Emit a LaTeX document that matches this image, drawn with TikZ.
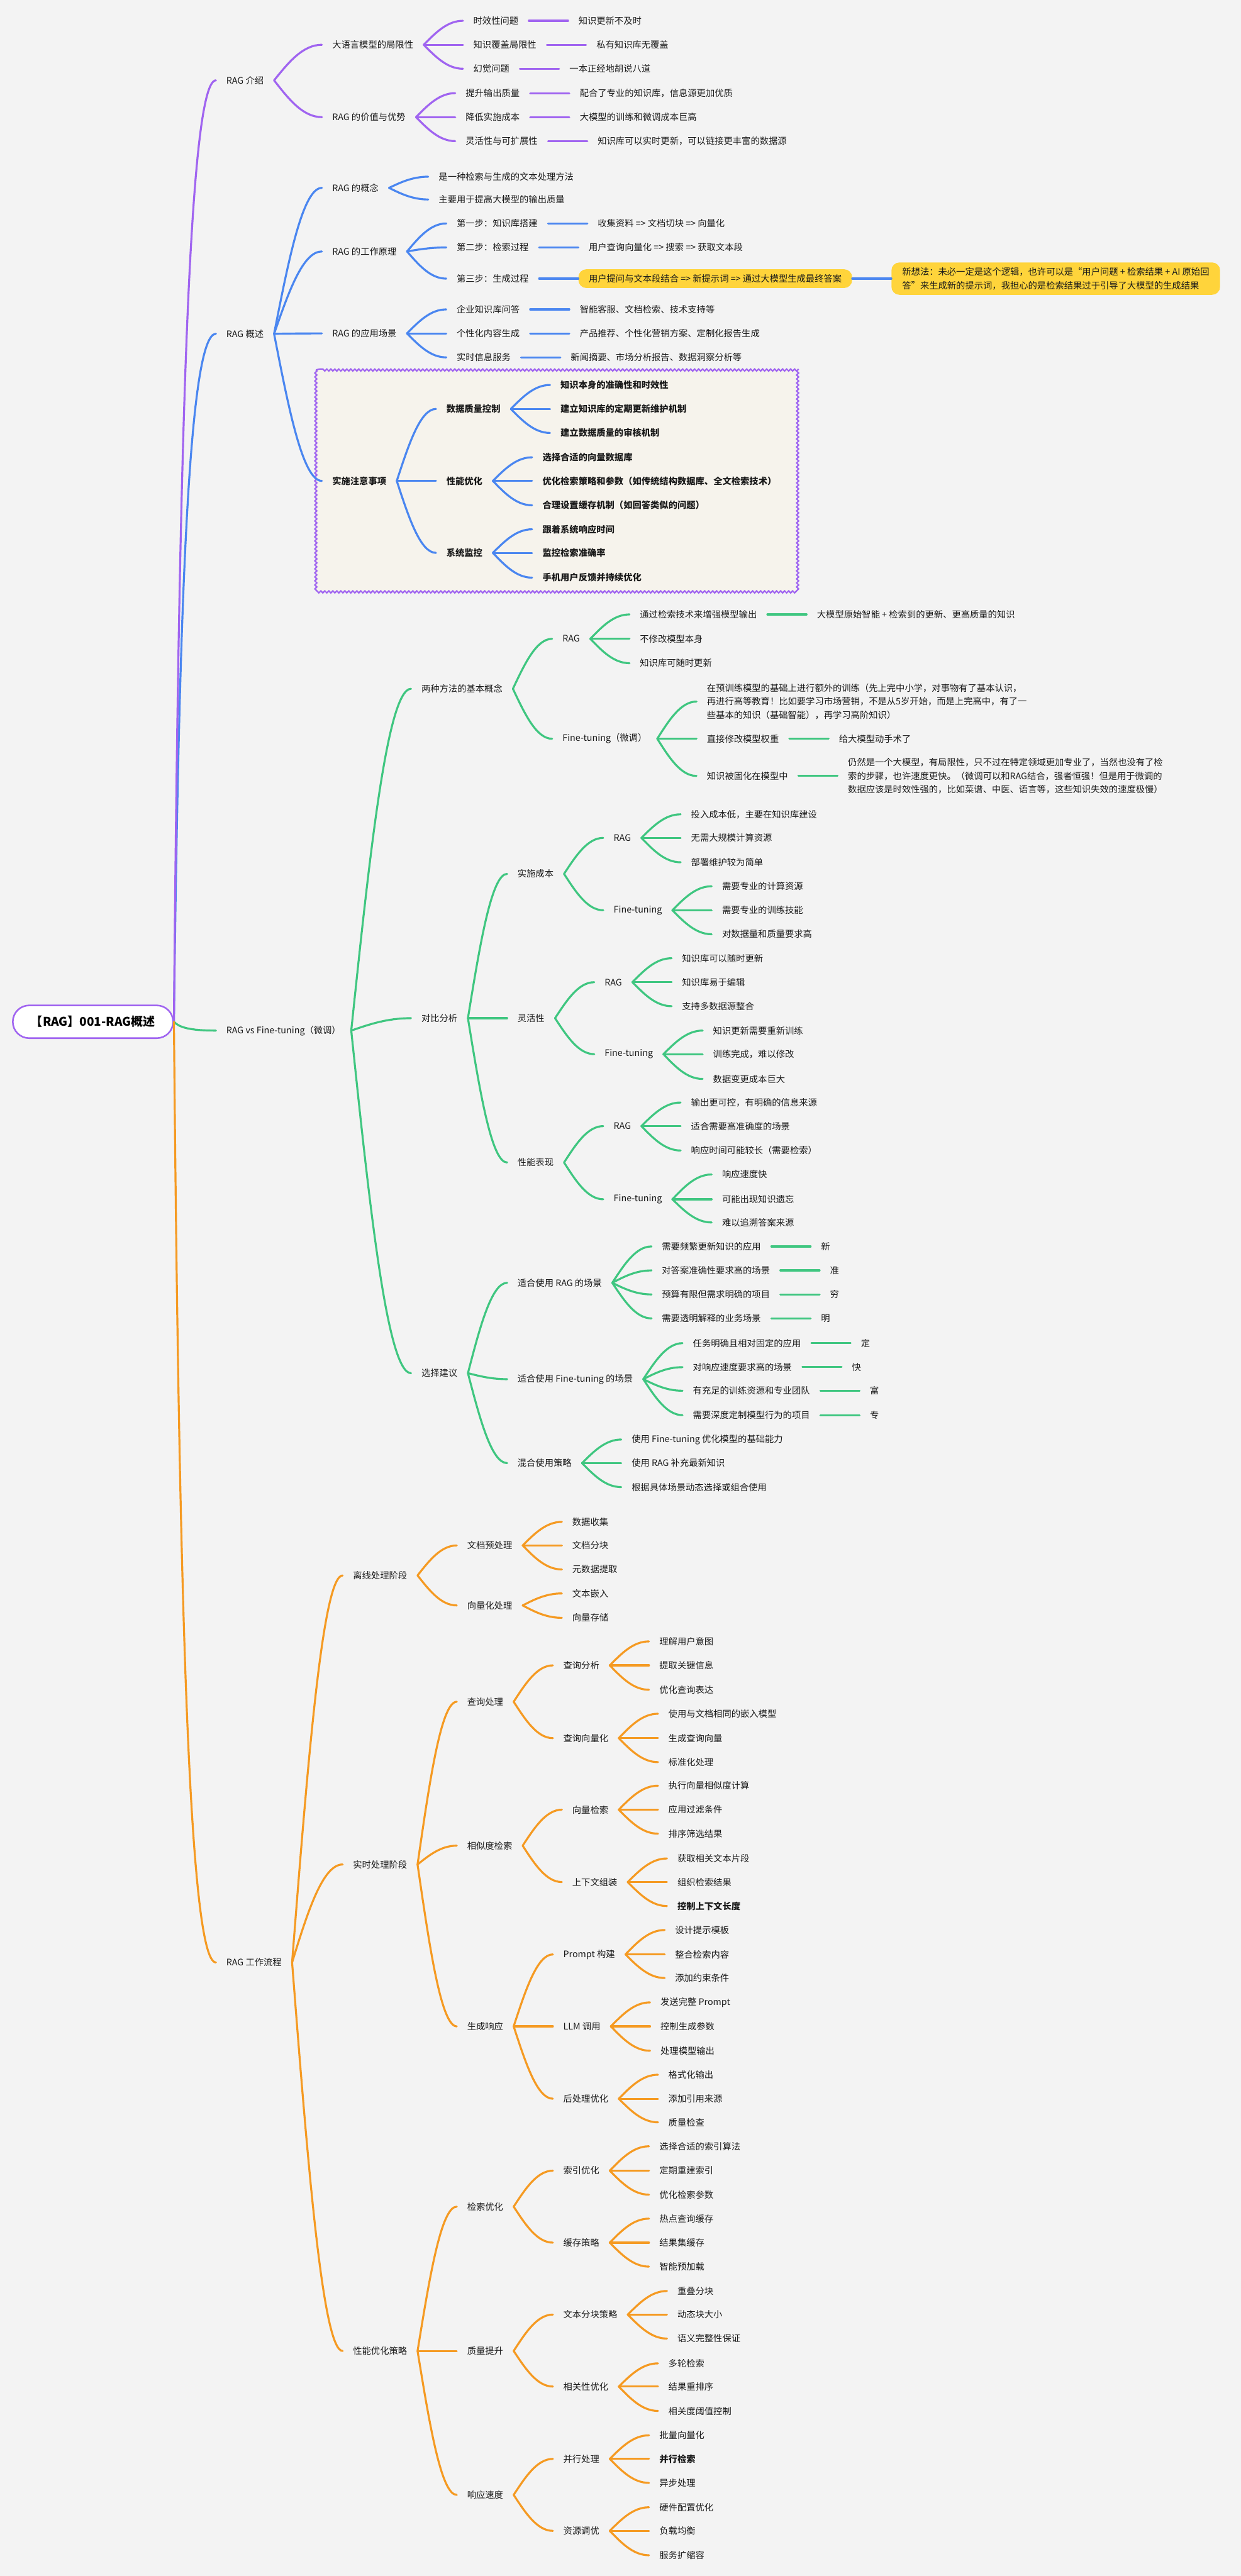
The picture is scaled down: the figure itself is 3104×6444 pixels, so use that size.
\documentclass[tikz,border=0pt]{standalone}
\usepackage{fontspec}
\setmainfont{Noto Sans CJK SC}
\usetikzlibrary{calc,decorations.pathmorphing}
\definecolor{cpur}{HTML}{A064F0}
\definecolor{cblu}{HTML}{4A86F0}
\definecolor{cgrn}{HTML}{3FC680}
\definecolor{corg}{HTML}{F59A22}
\definecolor{cyel}{HTML}{FFD43B}
\definecolor{bgc}{HTML}{F3F3F3}
\definecolor{boxbg}{HTML}{F6F3EC}
\definecolor{txt}{HTML}{1A1A1A}
\newcommand\fs{\fontsize{22.5}{34}\selectfont}
\def\cc{cpur}
\tikzset{
  t/.style={inner xsep=26pt, inner ysep=4pt, text=txt, font=\fs, anchor=west},
  tb/.style={font=\fs\bfseries},
  ln/.style={line width=5pt, line cap=round, draw=\cc},
  hl/.style={fill=cyel, rounded corners=20pt, inner ysep=10pt, minimum height=47pt},
  ml/.style={align=left},
}
\newcommand\cn[2]{\draw[ln] let \p1=(#1.east), \p2=(#2.west) in (\p1) .. controls ({\x1+0.3*(\x2-\x1)},{\y1+0.5*(\y2-\y1)}) and ({\x1+0.6*(\x2-\x1)},\y2) .. (\p2);}
\newcommand\cnr[1]{\draw[ln, line width=5pt] let \p1=(root.east), \p2=(#1.west) in (\p1) .. controls ({\x1+0.12*(\x2-\x1)},{\y1+0.6*(\y2-\y1)}) and ({\x1+0.35*(\x2-\x1)},\y2) .. (\p2);}
\newcommand\abc[6][]{\node[t,#1] (#2) at ({#4-26},{-#5}) {#6}; \cn{#3}{#2}}
\newcommand\nd[5][]{\path let \p1=(#3.east) in node[t,#1] (#2) at (\x1+98pt,-#4pt) {#5}; \cn{#3}{#2}}
\begin{document}
\begin{tikzpicture}[x=1pt,y=1pt]
\fill[bgc] (0,0) rectangle (3104,-6444);
\useasboundingbox (0,0) rectangle (3104,-6444);
% box for 实施注意事项
\fill[boxbg] (790,-925) rectangle (1990,-1477);
\draw[cpur, line width=3.5pt, decorate, decoration={snake, segment length=10pt, amplitude=2.5pt}] (790,-925) rectangle (1990,-1477);
% root
\node[draw=cpur, line width=4pt, fill=white, rounded corners=41pt, minimum width=401pt, minimum height=82pt, font=\fontsize{30}{36}\selectfont\bfseries, text=black] (root) at (232.5,-2556) {【RAG】001-RAG概述};
\node[t] (L1a) at (540,-201) {RAG 介绍};
\node[t] (L1b) at (540,-835) {RAG 概述};
\node[t] (L1c) at (540,-2578) {RAG vs Fine-tuning（微调）};
\node[t] (L1d) at (540,-4909) {RAG 工作流程};
\def\cc{cblu}\cnr{L1b}
\def\cc{cpur}\cnr{L1a}
\def\cc{cgrn}\cnr{L1c}
\def\cc{corg}\cnr{L1d}
% ===== purple
\def\cc{cpur}
\abc{a1}{L1a}{831}{112}{大语言模型的局限性}
\abc{a2}{L1a}{831}{293}{RAG 的价值与优势}
\nd{a11}{a1}{52}{时效性问题}
\nd{a12}{a1}{112}{知识覆盖局限性}
\nd{a13}{a1}{172}{幻觉问题}
\nd{a111}{a11}{52}{知识更新不及时}
\nd{a121}{a12}{112}{私有知识库无覆盖}
\nd{a131}{a13}{172}{一本正经地胡说八道}
\nd{a21}{a2}{233}{提升输出质量}
\nd{a22}{a2}{293}{降低实施成本}
\nd{a23}{a2}{353}{灵活性与可扩展性}
\nd{a211}{a21}{233}{配合了专业的知识库，信息源更加优质}
\nd{a221}{a22}{293}{大模型的训练和微调成本巨高}
\nd{a231}{a23}{353}{知识库可以实时更新，可以链接更丰富的数据源}
% ===== blue
\def\cc{cblu}
\abc{b1}{L1b}{831}{470}{RAG 的概念}
\abc{b2}{L1b}{831}{629}{RAG 的工作原理}
\abc{b3}{L1b}{831}{834}{RAG 的应用场景}
\abc[tb]{b4}{L1b}{831}{1203}{实施注意事项}
\nd{b11}{b1}{442}{是一种检索与生成的文本处理方法}
\nd{b12}{b1}{499}{主要用于提高大模型的输出质量}
\nd{b21}{b2}{559}{第一步：知识库搭建}
\nd{b22}{b2}{619}{第二步：检索过程}
\nd{b23}{b2}{697}{第三步：生成过程}
\nd{b211}{b21}{559}{收集资料 => 文档切块 => 向量化}
\nd{b221}{b22}{619}{用户查询向量化 => 搜索 => 获取文本段}
\nd[hl]{b231}{b23}{697}{用户提问与文本段结合 => 新提示词 => 通过大模型生成最终答案}
\nd[hl,ml,inner xsep=27pt,minimum height=81pt]{b2311}{b231}{697}{新想法：未必一定是这个逻辑，也许可以是“用户问题 + 检索结果 + AI 原始回\\答”来生成新的提示词，我担心的是检索结果过于引导了大模型的生成结果}
\nd{b31}{b3}{774}{企业知识库问答}
\nd{b32}{b3}{834}{个性化内容生成}
\nd{b33}{b3}{894}{实时信息服务}
\nd{b311}{b31}{774}{智能客服、文档检索、技术支持等}
\nd{b321}{b32}{834}{产品推荐、个性化营销方案、定制化报告生成}
\nd{b331}{b33}{894}{新闻摘要、市场分析报告、数据洞察分析等}
\nd[tb]{b41}{b4}{1023}{数据质量控制}
\nd[tb]{b42}{b4}{1203}{性能优化}
\nd[tb]{b43}{b4}{1383}{系统监控}
\nd[tb]{b411}{b41}{963}{知识本身的准确性和时效性}
\nd[tb]{b412}{b41}{1023}{建立知识库的定期更新维护机制}
\nd[tb]{b413}{b41}{1083}{建立数据质量的审核机制}
\nd[tb]{b421}{b42}{1144}{选择合适的向量数据库}
\nd[tb]{b422}{b42}{1203}{优化检索策略和参数（如传统结构数据库、全文检索技术）}
\nd[tb]{b423}{b42}{1264}{合理设置缓存机制（如回答类似的问题）}
\nd[tb]{b431}{b43}{1324}{跟着系统响应时间}
\nd[tb]{b432}{b43}{1383}{监控检索准确率}
\nd[tb]{b433}{b43}{1445}{手机用户反馈并持续优化}
% ===== green
\def\cc{cgrn}
\abc{c1}{L1c}{1054}{1723}{两种方法的基本概念}
\abc{c2}{L1c}{1054}{2547}{对比分析}
\abc{c3}{L1c}{1054}{3435}{选择建议}
\nd{c11}{c1}{1598}{RAG}
\nd{c12}{c1}{1848}{Fine-tuning（微调）}
\nd{c111}{c11}{1537}{通过检索技术来增强模型输出}
\nd{c112}{c11}{1598}{不修改模型本身}
\nd{c113}{c11}{1659}{知识库可随时更新}
\nd{c1111}{c111}{1537}{大模型原始智能 + 检索到的更新、更高质量的知识}
\nd[ml]{c121}{c12}{1755}{在预训练模型的基础上进行额外的训练（先上完中小学，对事物有了基本认识，\\再进行高等教育！比如要学习市场营销，不是从5岁开始，而是上完高中，有了一\\些基本的知识（基础智能），再学习高阶知识）}
\nd{c122}{c12}{1848}{直接修改模型权重}
\nd{c123}{c12}{1941}{知识被固化在模型中}
\nd{c1221}{c122}{1848}{给大模型动手术了}
\nd[ml]{c1231}{c123}{1941}{仍然是一个大模型，有局限性，只不过在特定领域更加专业了，当然也没有了检\\索的步骤，也许速度更快。（微调可以和RAG结合，强者恒强！但是用于微调的\\数据应该是时效性强的，比如菜谱、中医、语言等，这些知识失效的速度极慢）}
\nd{c21}{c2}{2186}{实施成本}
\nd{c22}{c2}{2547}{灵活性}
\nd{c23}{c2}{2908}{性能表现}
\nd{c211}{c21}{2096}{RAG}
\nd{c212}{c21}{2277}{Fine-tuning}
\nd{c2111}{c211}{2037}{投入成本低，主要在知识库建设}
\nd{c2112}{c211}{2096}{无需大规模计算资源}
\nd{c2113}{c211}{2157}{部署维护较为简单}
\nd{c2121}{c212}{2217}{需要专业的计算资源}
\nd{c2122}{c212}{2277}{需要专业的训练技能}
\nd{c2123}{c212}{2337}{对数据量和质量要求高}
\nd{c221}{c22}{2457}{RAG}
\nd{c222}{c22}{2637}{Fine-tuning}
\nd{c2211}{c221}{2397}{知识库可以随时更新}
\nd{c2212}{c221}{2457}{知识库易于编辑}
\nd{c2213}{c221}{2517}{支持多数据源整合}
\nd{c2221}{c222}{2578}{知识更新需要重新训练}
\nd{c2222}{c222}{2637}{训练完成，难以修改}
\nd{c2223}{c222}{2699}{数据变更成本巨大}
\nd{c231}{c23}{2817}{RAG}
\nd{c232}{c23}{3000}{Fine-tuning}
\nd{c2311}{c231}{2758}{输出更可控，有明确的信息来源}
\nd{c2312}{c231}{2817}{适合需要高准确度的场景}
\nd{c2313}{c231}{2878}{响应时间可能较长（需要检索）}
\nd{c2321}{c232}{2938}{响应速度快}
\nd{c2322}{c232}{3000}{可能出现知识遗忘}
\nd{c2323}{c232}{3058}{难以追溯答案来源}
\nd{c31}{c3}{3209}{适合使用 RAG 的场景}
\nd{c32}{c3}{3450}{适合使用 Fine-tuning 的场景}
\nd{c33}{c3}{3660}{混合使用策略}
\nd{c311}{c31}{3118}{需要频繁更新知识的应用}
\nd{c312}{c31}{3178}{对答案准确性要求高的场景}
\nd{c313}{c31}{3238}{预算有限但需求明确的项目}
\nd{c314}{c31}{3298}{需要透明解释的业务场景}
\nd{c3111}{c311}{3118}{新}
\nd{c3121}{c312}{3178}{准}
\nd{c3131}{c313}{3238}{穷}
\nd{c3141}{c314}{3298}{明}
\nd{c321}{c32}{3360}{任务明确且相对固定的应用}
\nd{c322}{c32}{3420}{对响应速度要求高的场景}
\nd{c323}{c32}{3479}{有充足的训练资源和专业团队}
\nd{c324}{c32}{3540}{需要深度定制模型行为的项目}
\nd{c3211}{c321}{3360}{定}
\nd{c3221}{c322}{3420}{快}
\nd{c3231}{c323}{3479}{富}
\nd{c3241}{c324}{3540}{专}
\nd{c331}{c33}{3601}{使用 Fine-tuning 优化模型的基础能力}
\nd{c332}{c33}{3660}{使用 RAG 补充最新知识}
\nd{c333}{c33}{3720}{根据具体场景动态选择或组合使用}
% ===== orange
\def\cc{corg}
\abc{d1}{L1d}{883}{3941}{离线处理阶段}
\abc{d2}{L1d}{883}{4664}{实时处理阶段}
\abc{d3}{L1d}{883}{5881}{性能优化策略}
\nd{d11}{d1}{3866}{文档预处理}
\nd{d12}{d1}{4016}{向量化处理}
\nd{d111}{d11}{3807}{数据收集}
\nd{d112}{d11}{3866}{文档分块}
\nd{d113}{d11}{3926}{元数据提取}
\nd{d121}{d12}{3986}{文本嵌入}
\nd{d122}{d12}{4047}{向量存储}
\nd{d21}{d2}{4257}{查询处理}
\nd{d22}{d2}{4617}{相似度检索}
\nd{d23}{d2}{5069}{生成响应}
\nd{d211}{d21}{4166}{查询分析}
\nd{d212}{d21}{4348}{查询向量化}
\nd{d2111}{d211}{4106}{理解用户意图}
\nd{d2112}{d211}{4166}{提取关键信息}
\nd{d2113}{d211}{4227}{优化查询表达}
\nd{d2121}{d212}{4287}{使用与文档相同的嵌入模型}
\nd{d2122}{d212}{4348}{生成查询向量}
\nd{d2123}{d212}{4408}{标准化处理}
\nd{d221}{d22}{4527}{向量检索}
\nd{d222}{d22}{4708}{上下文组装}
\nd{d2211}{d221}{4467}{执行向量相似度计算}
\nd{d2212}{d221}{4527}{应用过滤条件}
\nd{d2213}{d221}{4587}{排序筛选结果}
\nd{d2221}{d222}{4649}{获取相关文本片段}
\nd{d2222}{d222}{4708}{组织检索结果}
\nd[tb]{d2223}{d222}{4768}{控制上下文长度}
\nd{d231}{d23}{4889}{Prompt 构建}
\nd{d232}{d23}{5069}{LLM 调用}
\nd{d233}{d23}{5250}{后处理优化}
\nd{d2311}{d231}{4828}{设计提示模板}
\nd{d2312}{d231}{4889}{整合检索内容}
\nd{d2313}{d231}{4948}{添加约束条件}
\nd{d2321}{d232}{5009}{发送完整 Prompt}
\nd{d2322}{d232}{5069}{控制生成参数}
\nd{d2323}{d232}{5130}{处理模型输出}
\nd{d2331}{d233}{5190}{格式化输出}
\nd{d2332}{d233}{5250}{添加引用来源}
\nd{d2333}{d233}{5309}{质量检查}
\nd{d31}{d3}{5520}{检索优化}
\nd{d32}{d3}{5881}{质量提升}
\nd{d33}{d3}{6241}{响应速度}
\nd{d311}{d31}{5430}{索引优化}
\nd{d312}{d31}{5610}{缓存策略}
\nd{d3111}{d311}{5369}{选择合适的索引算法}
\nd{d3112}{d311}{5430}{定期重建索引}
\nd{d3113}{d311}{5490}{优化检索参数}
\nd{d3121}{d312}{5550}{热点查询缓存}
\nd{d3122}{d312}{5610}{结果集缓存}
\nd{d3123}{d312}{5670}{智能预加载}
\nd{d321}{d32}{5790}{文本分块策略}
\nd{d322}{d32}{5970}{相关性优化}
\nd{d3211}{d321}{5731}{重叠分块}
\nd{d3212}{d321}{5790}{动态块大小}
\nd{d3213}{d321}{5850}{语义完整性保证}
\nd{d3221}{d322}{5912}{多轮检索}
\nd{d3222}{d322}{5970}{结果重排序}
\nd{d3223}{d322}{6031}{相关度阈值控制}
\nd{d331}{d33}{6151}{并行处理}
\nd{d332}{d33}{6331}{资源调优}
\nd{d3311}{d331}{6092}{批量向量化}
\nd[tb]{d3312}{d331}{6151}{并行检索}
\nd{d3313}{d331}{6211}{异步处理}
\nd{d3321}{d332}{6272}{硬件配置优化}
\nd{d3322}{d332}{6331}{负载均衡}
\nd{d3323}{d332}{6392}{服务扩缩容}
\end{tikzpicture}
\end{document}
